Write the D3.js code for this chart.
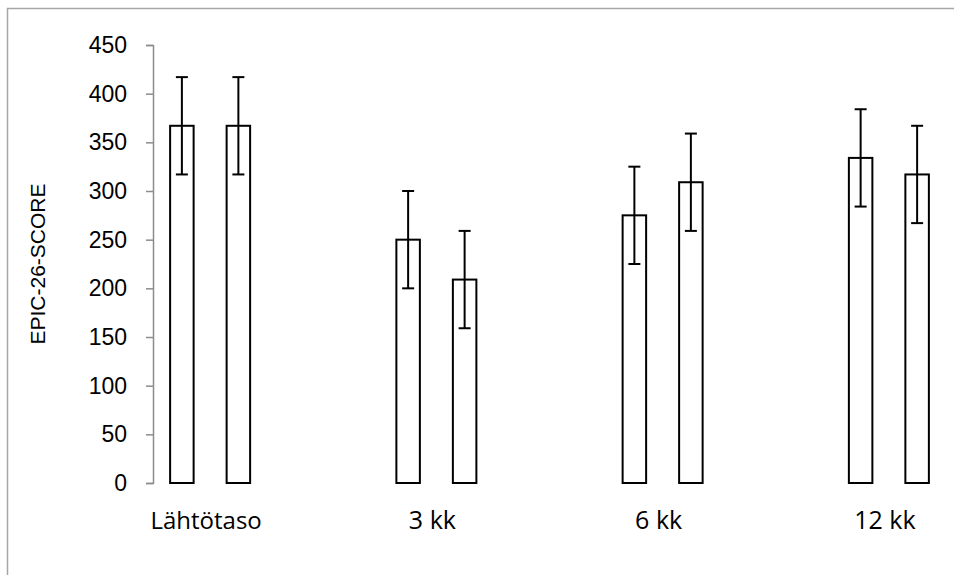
<!DOCTYPE html>
<html>
<head>
<meta charset="utf-8">
<script src="https://cdn.jsdelivr.net/npm/d3@7"></script>
<style>
  body { margin: 0; background: #fff; }
  svg { display: block; }
</style>
</head>
<body>
<div id="chart"></div>
<script>
// Categories (time points) and the two series
var categories = ["Lähtötaso", "3 kk", "6 kk", "12 kk"];
var seriesA = [367, 250, 275, 334];
var seriesB = [367, 209, 309, 317];
var errorA = [50, 50, 50, 50];
var errorB = [50, 50, 50, 50];
var yTicks = [0, 50, 100, 150, 200, 250, 300, 350, 400, 450];
var yTitle = "EPIC-26-SCORE";

var width = 954, height = 575;

var svg = d3.select("#chart").append("svg")
  .attr("width", width)
  .attr("height", height);

// outer frame (only top and left edges fall inside the picture)
svg.append("rect")
  .attr("x", 7.5).attr("y", 8.5)
  .attr("width", 1000).attr("height", 1000)
  .style("fill", "none")
  .style("stroke", "#a6a6a6")
  .style("stroke-width", "1.5px");

// scales
var y = d3.scaleLinear().domain([0, 450]).range([483, 45]);
var x0 = d3.scaleBand().domain(categories).range([97, 1002]);
var x1 = d3.scaleBand().domain([0, 1]).range([-40, 40]).paddingInner(0.584);

// build one row per bar
var bars = [];
categories.forEach(function(c, i) {
  bars.push({cat: c, s: 0, v: seriesA[i], e: errorA[i]});
  bars.push({cat: c, s: 1, v: seriesB[i], e: errorB[i]});
});
function cx(d) { return x0(d.cat) + x0.bandwidth() / 2 + x1(d.s); }

// y axis
var yAxis = svg.append("g")
  .attr("transform", "translate(153,0)")
  .call(d3.axisLeft(y).tickValues(yTicks).tickSize(7).tickPadding(19).tickSizeOuter(7));
yAxis.select(".domain").style("stroke", "#8c8c8c").style("stroke-width", "1.5px");
yAxis.selectAll(".tick line").style("stroke", "#8c8c8c").style("stroke-width", "1.5px");
yAxis.selectAll(".tick text")
  .style("font-family", "'Liberation Sans', Arial, sans-serif")
  .style("font-size", "23px")
  .style("fill", "#000");

// bars
svg.selectAll(".bar")
  .data(bars)
  .enter().append("rect")
  .attr("class", "bar")
  .attr("x", cx)
  .attr("y", function(d) { return y(d.v); })
  .attr("width", x1.bandwidth())
  .attr("height", function(d) { return y(0) - y(d.v); })
  .style("fill", "#fff")
  .style("stroke", "#000")
  .style("stroke-width", "2px");

// error bars
var eb = svg.selectAll(".err")
  .data(bars)
  .enter().append("g")
  .attr("class", "err")
  .style("stroke", "#000")
  .style("stroke-width", "2px");
eb.append("line")
  .attr("x1", function(d) { return cx(d) + x1.bandwidth() / 2; })
  .attr("x2", function(d) { return cx(d) + x1.bandwidth() / 2; })
  .attr("y1", function(d) { return y(d.v + d.e); })
  .attr("y2", function(d) { return y(d.v - d.e); });
[1, -1].forEach(function(sign) {
  eb.append("line")
    .attr("x1", function(d) { return cx(d) + x1.bandwidth() / 2 - 6; })
    .attr("x2", function(d) { return cx(d) + x1.bandwidth() / 2 + 6; })
    .attr("y1", function(d) { return y(d.v + sign * d.e); })
    .attr("y2", function(d) { return y(d.v + sign * d.e); });
});

// category labels
svg.selectAll(".cat")
  .data(categories)
  .enter().append("text")
  .attr("class", "cat")
  .attr("x", function(d) { return x0(d) + x0.bandwidth() / 2 - 4; })
  .attr("y", 529)
  .attr("text-anchor", "middle")
  .style("font-family", "'Open Sans', sans-serif")
  .style("font-size", function(d, i) { return i == 0 ? "24px" : "25px"; })
  .text(function(d) { return d; });

// y title
svg.append("text")
  .attr("transform", "translate(45,264) rotate(-90)")
  .attr("text-anchor", "middle")
  .style("font-family", "'Liberation Sans', Arial, sans-serif")
  .style("font-size", "21px")
  .text(yTitle);
</script>
</body>
</html>
